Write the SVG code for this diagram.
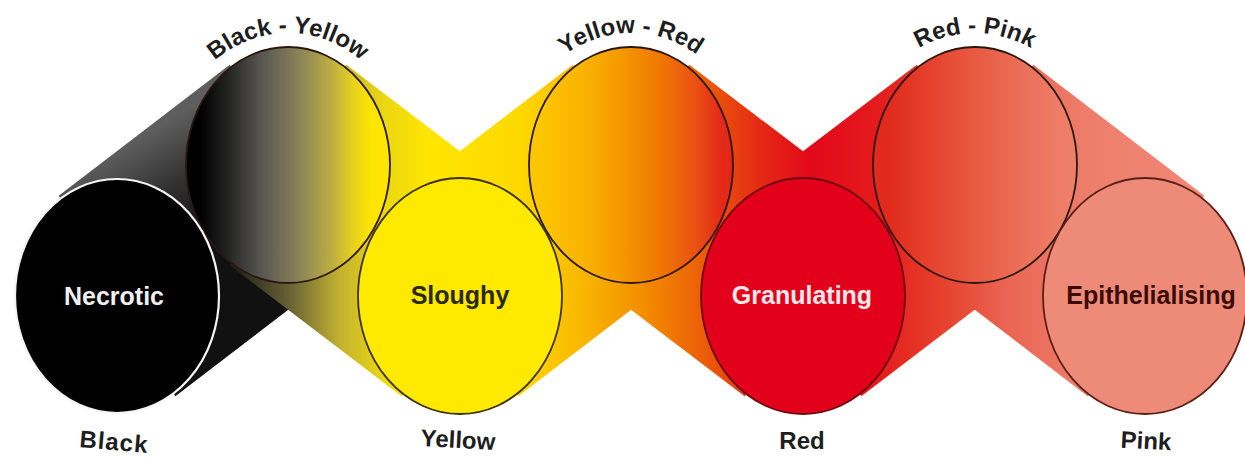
<svg xmlns="http://www.w3.org/2000/svg" width="1245" height="458" viewBox="0 0 1245 458">
<style>
.lbl{font-family:"Liberation Sans",Arial,sans-serif;font-weight:bold;font-size:24px;fill:#1e1e1e}
.nd{font-family:"Liberation Sans",Arial,sans-serif;font-weight:bold;font-size:25px;text-anchor:middle}
.top{stroke:#2a1810;stroke-width:1.8}
</style>
<defs>
<linearGradient id="band1" gradientUnits="userSpaceOnUse" x1="146" y1="133" x2="203" y2="231">
<stop offset="0" stop-color="#5e5e5e"/><stop offset="0.5" stop-color="#333"/><stop offset="1" stop-color="#111"/>
</linearGradient>
<linearGradient id="band" gradientUnits="userSpaceOnUse" x1="0" y1="0" x2="1245" y2="0">
<stop offset="0.1807" stop-color="#151515"/>
<stop offset="0.2329" stop-color="#686236"/>
<stop offset="0.2731" stop-color="#c4b230"/>
<stop offset="0.3092" stop-color="#ead812"/>
<stop offset="0.3454" stop-color="#ffe600"/>
<stop offset="0.4177" stop-color="#fed800"/>
<stop offset="0.4659" stop-color="#f9b800"/>
<stop offset="0.5141" stop-color="#f39000"/>
<stop offset="0.5622" stop-color="#ec6008"/>
<stop offset="0.6104" stop-color="#e52a14"/>
<stop offset="0.6506" stop-color="#e2081a"/>
<stop offset="0.7068" stop-color="#e41c1c"/>
<stop offset="0.755" stop-color="#e6402c"/>
<stop offset="0.8112" stop-color="#ea6654"/>
<stop offset="0.8755" stop-color="#ee7e6c"/>
<stop offset="1" stop-color="#f08a78"/>
</linearGradient>
<linearGradient id="gBY" x1="0" y1="0" x2="1" y2="0">
<stop offset="0.07" stop-color="#000"/>
<stop offset="0.2" stop-color="#222"/>
<stop offset="0.36" stop-color="#555450"/>
<stop offset="0.56" stop-color="#8a8458"/>
<stop offset="0.72" stop-color="#c0b040"/>
<stop offset="0.82" stop-color="#e8d020"/>
<stop offset="0.9" stop-color="#fbe400"/>
<stop offset="1" stop-color="#ffe600"/>
</linearGradient>
<linearGradient id="gYR" x1="0" y1="0" x2="1" y2="0">
<stop offset="0.06" stop-color="#fdc600"/>
<stop offset="0.29" stop-color="#f9b000"/>
<stop offset="0.45" stop-color="#f59800"/>
<stop offset="0.61" stop-color="#f07e00"/>
<stop offset="0.81" stop-color="#ea5212"/>
<stop offset="0.94" stop-color="#e42a18"/>
<stop offset="1" stop-color="#e22418"/>
</linearGradient>
<linearGradient id="gRP" x1="0" y1="0" x2="1" y2="0">
<stop offset="0.07" stop-color="#e02a1c"/>
<stop offset="0.23" stop-color="#e43c28"/>
<stop offset="0.48" stop-color="#e85840"/>
<stop offset="0.72" stop-color="#eb6e58"/>
<stop offset="0.93" stop-color="#ee7e68"/>
</linearGradient>
<path id="arcBY" d="M 168 165 A 120 132 0 0 1 408 165"/>
<path id="arcYR" d="M 511 165 A 120 132 0 0 1 751 165"/>
<path id="arcRP" d="M 855 165 A 120 132 0 0 1 1095 165"/>
</defs>
<rect width="1245" height="458" fill="#fff"/>
<g id="connectors">
<polygon fill="url(#band1)" points="175.3,396.2 346.3,265.2 229.7,64.8 58.7,195.8"/>
<polygon fill="url(#band)" points="346.1,64.6 518.1,195.6 401.9,396.4 229.9,265.4"/>
<polygon fill="url(#band)" points="518.3,396.2 689.3,265.2 572.7,64.8 401.7,195.8"/>
<polygon fill="url(#band)" points="689.1,64.6 861.1,195.6 744.9,396.4 572.9,265.4"/>
<polygon fill="url(#band)" points="861.3,396.2 1033.3,265.2 916.7,64.8 744.7,195.8"/>
<polygon fill="url(#band)" points="1033.1,64.6 1204.1,195.6 1087.9,396.4 916.9,265.4"/>
</g>
<g id="black-yellow">
<ellipse class="top" cx="288" cy="165" rx="102" ry="118" fill="url(#gBY)"/>
<text class="lbl"><textPath href="#arcBY" startOffset="50%" text-anchor="middle">Black - Yellow</textPath></text>
</g>
<g id="yellow-red">
<ellipse class="top" cx="631" cy="165" rx="102" ry="118" fill="url(#gYR)"/>
<text class="lbl"><textPath href="#arcYR" startOffset="50%" text-anchor="middle">Yellow - Red</textPath></text>
</g>
<g id="red-pink">
<ellipse class="top" cx="975" cy="165" rx="102" ry="118" fill="url(#gRP)"/>
<text class="lbl"><textPath href="#arcRP" startOffset="50%" text-anchor="middle">Red - Pink</textPath></text>
</g>
<g id="necrotic">
<ellipse cx="117" cy="296" rx="102" ry="117" fill="#000" stroke="#f4f4f4" stroke-width="2.2"/>
<text class="nd" x="114" y="305" fill="#f0f0f0">Necrotic</text>
<text class="lbl" x="114" y="450" text-anchor="middle" letter-spacing="1" transform="rotate(5 114 442)">Black</text>
</g>
<g id="sloughy">
<ellipse cx="460" cy="296" rx="102" ry="118" fill="#ffe900" stroke="#3a3000" stroke-width="1.8"/>
<text class="nd" x="460" y="304" fill="#2a2a10">Sloughy</text>
<text class="lbl" x="458" y="448" text-anchor="middle" transform="rotate(3 458 440)">Yellow</text>
</g>
<g id="granulating">
<ellipse cx="803" cy="296" rx="102" ry="118" fill="#e2001a" stroke="#6a0a10" stroke-width="1.8"/>
<text class="nd" x="802" y="304" fill="#ffe8ec">Granulating</text>
<text class="lbl" x="802" y="449" text-anchor="middle">Red</text>
</g>
<g id="epithelialising">
<ellipse cx="1145" cy="296" rx="102" ry="118" fill="#ee8a78" stroke="#5a2018" stroke-width="1.8"/>
<text class="nd" x="1151" y="304" fill="#3a0c08">Epithelialising</text>
<text class="lbl" x="1146" y="449" text-anchor="middle" transform="rotate(3 1146 441)">Pink</text>
</g>
</svg>
